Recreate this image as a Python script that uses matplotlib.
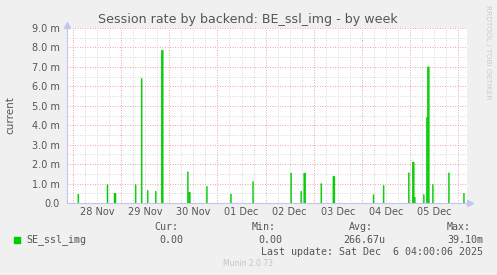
"""
Munin week graph: session rate by backend BE_ssl_img.
"""
import pandas as pd
import matplotlib
matplotlib.use("Agg")
import matplotlib.pyplot as plt
import matplotlib.dates as mdates
from matplotlib.patches import Rectangle
from matplotlib.ticker import MultipleLocator, FuncFormatter, NullFormatter

# 30 minute bins that had sessions (everything else is 0), rate in milli/s
bin_start = [
    "2025-11-28 02:30", "2025-11-28 17:00", "2025-11-28 20:30", "2025-11-28 21:00",
    "2025-11-29 07:00", "2025-11-29 10:00", "2025-11-29 13:00", "2025-11-29 17:00",
    "2025-11-29 20:00", "2025-11-29 20:30", "2025-11-30 09:00", "2025-11-30 09:30",
    "2025-11-30 10:00", "2025-11-30 18:30", "2025-12-01 06:30", "2025-12-01 17:30",
    "2025-12-02 12:30", "2025-12-02 17:30", "2025-12-02 19:00", "2025-12-02 19:30",
    "2025-12-03 03:30", "2025-12-03 09:30", "2025-12-03 10:00", "2025-12-04 05:30",
    "2025-12-04 10:30", "2025-12-04 23:00", "2025-12-05 01:00", "2025-12-05 01:30",
    "2025-12-05 02:00", "2025-12-05 06:30", "2025-12-05 08:00", "2025-12-05 08:30",
    "2025-12-05 09:00", "2025-12-05 11:00", "2025-12-05 19:00", "2025-12-06 02:30",
]
rate_milli = [
    0.46, 0.94, 0.5, 0.5,
    0.94, 6.4, 0.65, 0.6,
    7.85, 7.85, 1.6, 0.55,
    0.55, 0.85, 0.46, 1.1,
    1.54, 0.6, 1.54, 1.54,
    1.0, 1.37, 1.37, 0.43,
    0.9, 1.55, 2.1, 2.1,
    0.3, 0.43, 4.4, 7.0,
    7.0, 0.95, 1.55, 0.5,
]

view_start = pd.Timestamp("2025-11-27 21:05")
view_end = pd.Timestamp("2025-12-06 04:17")

series_name = "SE_ssl_img"
stat_names = ["Cur:", "Min:", "Avg:", "Max:"]
stat_values = ["0.00", "0.00", "266.67u", "39.10m"]
last_update = "Last update: Sat Dec  6 04:00:06 2025"

W, H = 497, 275
TXT = "#555555"
GREEN = "#00cc00"
AXIS = "#c4c4f4"


def fx(x):
    return x / W


def fy(y):
    return 1 - y / H


def main():
    fig = plt.figure(figsize=(W / 100, H / 100), dpi=100, facecolor="#f0f0f0")
    ax = fig.add_axes([fx(67), fy(203), (467 - 67) / W, (203 - 28) / H])
    ax.set_facecolor("white")

    t = pd.to_datetime(bin_start).to_pydatetime()
    ax.bar(t, rate_milli, width=pd.Timedelta(minutes=30).to_pytimedelta(),
           align="edge", facecolor=GREEN, edgecolor=GREEN, linewidth=0.3,
           snap=False, zorder=3)

    ax.set_xlim(view_start, view_end)
    ax.set_ylim(0, 9)

    # x: red line at midnight, grey every 6h, label at noon
    ax.xaxis.set_major_locator(mdates.DayLocator())
    ax.xaxis.set_major_formatter(NullFormatter())
    ax.xaxis.set_minor_locator(mdates.HourLocator(byhour=[6, 12, 18]))

    def day_label(v, pos):
        if abs(v % 1 - 0.5) < 1e-3:
            return mdates.num2date(v).strftime("%d %b")
        return ""
    ax.xaxis.set_minor_formatter(FuncFormatter(day_label))

    ax.yaxis.set_major_locator(MultipleLocator(1))
    ax.yaxis.set_minor_locator(MultipleLocator(0.5))
    ax.yaxis.set_major_formatter(
        FuncFormatter(lambda v, p: "0.0" if v == 0 else f"{v:.1f} m"))

    ax.grid(which="major", color="#f0a8a8", ls=(0, (1, 1.5)), lw=0.72)
    ax.grid(which="minor", color="#d8d8d8", ls=(0, (1, 1.5)), lw=0.72)
    ax.set_axisbelow(True)

    ax.tick_params(which="both", length=0, colors=TXT, labelsize=7)
    ax.tick_params(axis="y", pad=5)
    ax.tick_params(axis="x", which="minor", pad=3)

    for s in ["top", "right"]:
        ax.spines[s].set_visible(False)
    for s in ["left", "bottom"]:
        ax.spines[s].set_color(AXIS)
        ax.spines[s].set_linewidth(0.8)
    ax.plot([0], [1 + 3 / 175], marker="^", ms=4, color=AXIS,
            transform=ax.transAxes, clip_on=False)
    ax.plot([1 + 3 / 400], [0], marker=">", ms=4, color=AXIS,
            transform=ax.transAxes, clip_on=False)

    fig.text(fx(10), fy(115), "current", rotation=90, ha="center", va="center",
             color=TXT, fontsize=7.5)

    fig.text(fx(248), fy(19), "Session rate by backend: BE_ssl_img - by week",
             ha="center", va="center", color=TXT, fontsize=9.1)
    fig.text(fx(488), fy(5), "RRDTOOL / TOBI OETIKER", rotation=270,
             ha="center", va="top", color="#cccccc", fontsize=5.3)

    # legend block
    mono = dict(family="DejaVu Sans Mono", fontsize=7.2, color=TXT, va="center")
    fig.patches.append(Rectangle((fx(14), fy(243)), 6 / W, 6 / H,
                                 transform=fig.transFigure, color=GREEN))
    fig.text(fx(26), fy(240), series_name, ha="left", **mono)
    for name, hx in zip(stat_names, [154, 252, 349, 447]):
        fig.text(fx(hx), fy(227), name, ha="left", **mono)
    for val, vx in zip(stat_values, [183, 282, 385, 483]):
        fig.text(fx(vx), fy(240), val, ha="right", **mono)
    fig.text(fx(483), fy(252), last_update, ha="right", **mono)
    fig.text(fx(248), fy(264), "Munin 2.0.73", ha="center", va="center",
             color="#c4c4c4", fontsize=5.5)

    fig.savefig("out.png", dpi=100, facecolor=fig.get_facecolor())


if __name__ == "__main__":
    main()
